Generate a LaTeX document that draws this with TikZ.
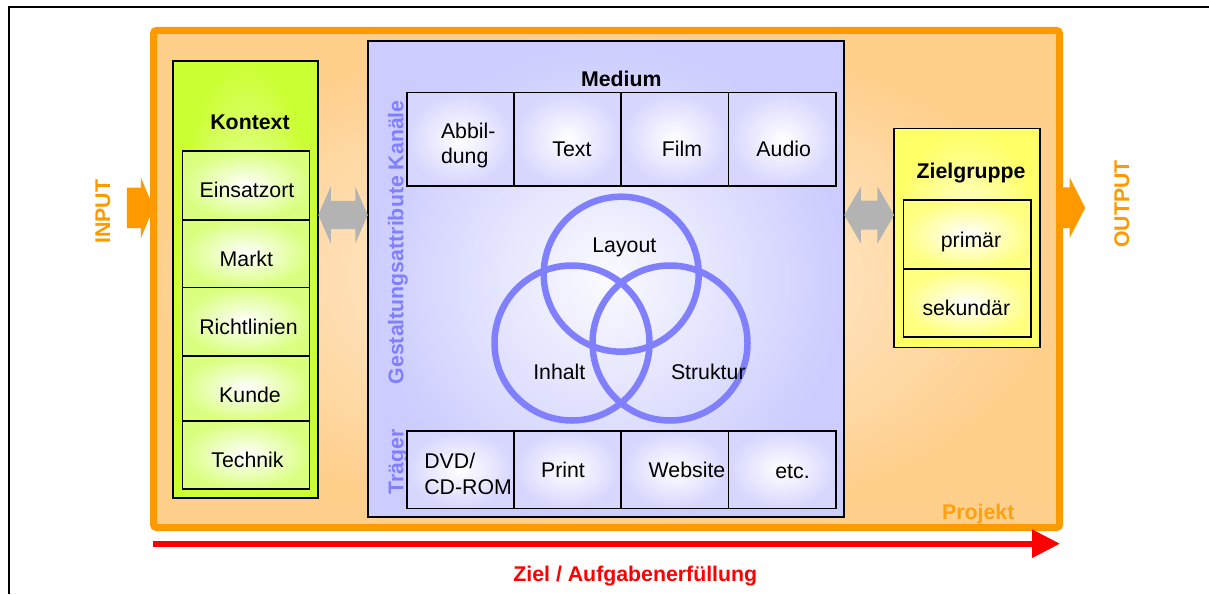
\documentclass[tikz,border=0pt]{standalone}
\usepackage{fontspec}
\setmainfont{Liberation Sans}
\usetikzlibrary{calc,arrows.meta}

\definecolor{projorange}{HTML}{FF9900}
\definecolor{projtext}{HTML}{FFA10F}
\definecolor{projout}{HTML}{FFCF8C}
\definecolor{projin}{HTML}{FFF3E8}
\definecolor{ctxgreen}{HTML}{CCFF33}
\definecolor{ctxin}{HTML}{F2FFD0}
\definecolor{ctxcell}{HTML}{DAFF80}
\definecolor{medblue}{HTML}{CCCCFF}
\definecolor{medin}{HTML}{FAFAFF}
\definecolor{medcell}{HTML}{D6D6FF}
\definecolor{venn}{HTML}{8080FF}
\definecolor{zgyellow}{HTML}{FFFF66}
\definecolor{zgin}{HTML}{FFFFE0}
\definecolor{zgcell}{HTML}{FFFF80}
\definecolor{linkgray}{HTML}{B3B3B3}
\definecolor{goalred}{HTML}{FF0000}

\tikzset{
  every node/.style={inner sep=0pt, outer sep=0pt},
  txt/.style={font=\fontsize{21.3}{25.5}\selectfont, anchor=base},
  hdr/.style={font=\fontsize{21.3}{25.5}\selectfont\bfseries, anchor=base},
  frame/.style={draw=black, line width=1.6pt, rectangle},
  projbox/.style={draw=projorange, line width=7pt, rectangle, rounded corners=3pt,
    inner color=projin, outer color=projout},
  ctxbox/.style={frame, inner color=ctxin, outer color=ctxgreen},
  ctxcellbox/.style={frame, inner color=white, outer color=ctxcell, minimum width=127pt},
  medbox/.style={frame, inner color=medin, outer color=medblue},
  medcellbox/.style={frame, inner color=white, outer color=medcell},
  zgbox/.style={frame, inner color=zgin, outer color=zgyellow},
  zgcellbox/.style={frame, inner color=white, outer color=zgcell, minimum width=127.4pt},
  ring/.style={draw=venn, line width=6.5pt, circle, minimum size=155pt},
  flowarrow/.style={fill=projorange},
  linkarrow/.style={fill=linkgray},
}

\begin{document}
\begin{tikzpicture}[x=1pt, y=-1pt]
\useasboundingbox (0,0) rectangle (1209,594);

% page frame
\draw[line width=2pt] (8.5,594) -- (8.5,7.5) -- (1209,7.5);

% project box
\node[projbox, minimum width=906pt, minimum height=497pt] (projekt) at (606.5,279) {};

% input / output arrows
\coordinate (inTip) at (projekt.west |- 0,207.8);
\fill[flowarrow] (inTip) -- ($(inTip)+(-12.7,-30.5)$) -- ($(inTip)+(-12.7,-20.2)$)
  -- ($(inTip)+(-26.7,-20.2)$) -- ($(inTip)+(-26.7,20.2)$) -- ($(inTip)+(-12.7,20.2)$)
  -- ($(inTip)+(-12.7,30.5)$) -- cycle;
\coordinate (outBase) at (projekt.east |- 0,207.8);
\fill[flowarrow] ($(outBase)+(0,-20.4)$) -- ($(outBase)+(10,-20.4)$) -- ($(outBase)+(10,-30.5)$)
  -- ($(outBase)+(25.7,0)$) -- ($(outBase)+(10,30.5)$) -- ($(outBase)+(10,20.4)$)
  -- ($(outBase)+(0,20.4)$) -- cycle;
\node[hdr, text=projorange, rotate=90] (input) at (110,211.7) {INPUT};
\node[hdr, text=projorange, rotate=90] (output) at (1129,203.8) {OUTPUT};

% Kontext column
\node[ctxbox, minimum width=145.5pt, minimum height=437.5pt] (kontext) at (245.5,279.5) {};
\node[hdr] (kontextT) at (250,129.3) {Kontext};
\node[ctxcellbox, minimum height=69pt]   (k1) at (245.8,185.2) {};
\node[ctxcellbox, minimum height=67.6pt] (k2) at (245.8,253.5) {};
\node[ctxcellbox, minimum height=68.4pt] (k3) at (245.8,321.5) {};
\node[ctxcellbox, minimum height=65pt]   (k4) at (245.8,388.2) {};
\node[ctxcellbox, minimum height=68.3pt] (k5) at (245.8,454.85) {};
\node[txt] (k1t) at (247,197.3) {Einsatzort};
\node[txt] (k2t) at (246.3,266.7) {Markt};
\node[txt] (k3t) at (248.5,334.3) {Richtlinien};
\node[txt] (k4t) at (250,402.7) {Kunde};
\node[txt] (k5t) at (247.5,467.7) {Technik};

% Medium block
\node[medbox, minimum width=476.5pt, minimum height=476.5pt] (medium) at (606,279) {};
\node[hdr] (mediumT) at (621.3,86.7) {Medium};
\node[hdr, text=venn, rotate=90] (gestT) at (403.3,242.3) {Gestaltungsattribute Kanäle};
\node[hdr, text=venn, rotate=90] (traegerT) at (403.3,461.7) {Träger};

\node[medcellbox, minimum width=107.3pt, minimum height=93.4pt] (m1) at (460.35,139) {};
\node[medcellbox, minimum width=107pt,   minimum height=93.4pt] (m2) at (567.5,139) {};
\node[medcellbox, minimum width=107.3pt, minimum height=93.4pt] (m3) at (674.65,139) {};
\node[medcellbox, minimum width=107.4pt, minimum height=93.4pt] (m4) at (782,139) {};
\node[txt, anchor=west, align=left] (m1t) at (441,145.5) {Abbil-\\dung};
\node[txt] (m2t) at (572,156) {Text};
\node[txt] (m3t) at (682,156) {Film};
\node[txt] (m4t) at (783.7,156) {Audio};

\node[medcellbox, minimum width=107.3pt, minimum height=77.6pt] (t1) at (460.35,469.5) {};
\node[medcellbox, minimum width=107pt,   minimum height=77.6pt] (t2) at (567.5,469.5) {};
\node[medcellbox, minimum width=107.3pt, minimum height=77.6pt] (t3) at (674.65,469.5) {};
\node[medcellbox, minimum width=107.4pt, minimum height=77.6pt] (t4) at (782,469.5) {};
\node[txt, anchor=west, align=left] (t1t) at (424.3,473.7) {DVD/\\CD-ROM};
\node[txt] (t2t) at (563,477.7) {Print};
\node[txt] (t3t) at (687,477.7) {Website};
\node[txt] (t4t) at (792.5,478.5) {etc.};

% Venn rings
\node[ring] (layout)   at (621.2,274.2) {};
\node[ring] (inhalt)   at (572,343) {};
\node[ring] (struktur) at (670,343) {};
\node[txt] (layoutT)   at (624.3,252.7) {Layout};
\node[txt] (inhaltT)   at (559.3,379.3) {Inhalt};
\node[txt] (strukturT) at (708.3,379.3) {Struktur};

% Zielgruppe column
\node[zgbox, minimum width=145.8pt, minimum height=219pt] (ziel) at (967,238) {};
\node[hdr] (zielT) at (971,178.3) {Zielgruppe};
\node[zgcellbox, minimum height=69pt]   (z1) at (967,234.5) {};
\node[zgcellbox, minimum height=67.7pt] (z2) at (967,302.85) {};
\node[txt] (z1t) at (971,247.3) {primär};
\node[txt] (z2t) at (966.3,315.7) {sekundär};

% double arrows between the columns
\coordinate (aL) at (kontext.east |- 0,215);
\coordinate (aR) at (medium.west |- 0,215);
\fill[linkarrow] (aL) -- ($(aL)+(12.5,-28.5)$) -- ($(aL)+(12.5,-14.2)$)
  -- ($(aR)+(-12.5,-14.2)$) -- ($(aR)+(-12.5,-28.5)$) -- (aR)
  -- ($(aR)+(-12.5,28.5)$) -- ($(aR)+(-12.5,14.2)$)
  -- ($(aL)+(12.5,14.2)$) -- ($(aL)+(12.5,28.5)$) -- cycle;
\coordinate (bL) at (medium.east |- 0,215);
\coordinate (bR) at (ziel.west |- 0,215);
\fill[linkarrow] (bL) -- ($(bL)+(16.7,-28.5)$) -- ($(bL)+(16.7,-14.5)$)
  -- ($(bR)+(-16.7,-14.5)$) -- ($(bR)+(-16.7,-28.5)$) -- (bR)
  -- ($(bR)+(-16.7,28.5)$) -- ($(bR)+(-16.7,14.5)$)
  -- ($(bL)+(16.7,14.5)$) -- ($(bL)+(16.7,28.5)$) -- cycle;

\node[hdr, text=projtext] (projektT) at (978.3,519.3) {Projekt};

% goal arrow
\coordinate (goalStart) at (153.3,543.7);
\coordinate (goalEnd) at (1060,543.7);
\draw[goalred, line width=6pt, -{Triangle[length=28pt,width=27pt]}] (goalStart) -- (goalEnd);
\node[hdr, text=goalred] (goalT) at (635.3,581.7) {Ziel / Aufgabenerfüllung};
\end{tikzpicture}
\end{document}
